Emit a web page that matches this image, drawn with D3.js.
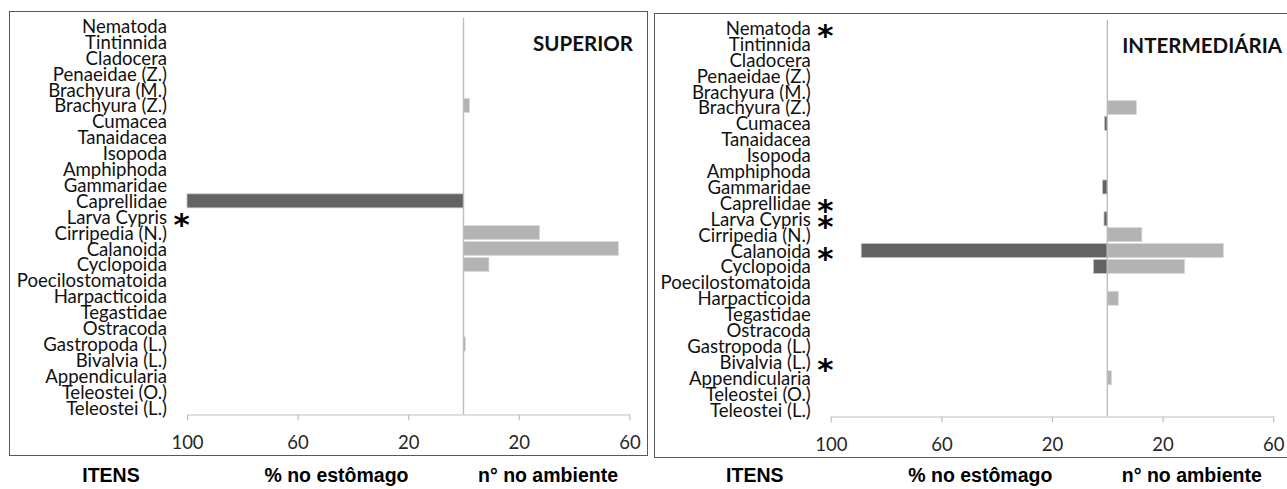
<!DOCTYPE html>
<html>
<head>
<meta charset="utf-8">
<script src="https://cdn.jsdelivr.net/npm/d3@7/dist/d3.min.js"></script>
<style>
  html, body { margin: 0; padding: 0; background: #fff; }
  svg { display: block; }
</style>
</head>
<body>
<svg id="chart" width="1287" height="489"></svg>
<script>
// Food items, listed top to bottom
const items = [
  "Nematoda", "Tintinnida", "Cladocera", "Penaeidae (Z.)", "Brachyura (M.)",
  "Brachyura (Z.)", "Cumacea", "Tanaidacea", "Isopoda", "Amphiphoda",
  "Gammaridae", "Caprellidae", "Larva Cypris", "Cirripedia (N.)", "Calanoida",
  "Cyclopoida", "Poecilostomatoida", "Harpacticoida", "Tegastidae", "Ostracoda",
  "Gastropoda (L.)", "Bivalvia (L.)", "Appendicularia", "Teleostei (O.)", "Teleostei (L.)"
];

// SUPERIOR layer: % in stomach (left) and n° in the environment (right)
const superiorStomach = [0,0,0,0,0, 0,0,0,0,0, 0,100,0,0,0, 0,0,0,0,0, 0,0,0,0,0];
const superiorAmbient = [0,0,0,0,0, 2.2,0,0,0,0, 0,0,0,27.5,56, 9.2,0,0,0,0, 0.7,0,0,0,0];
const superiorStars = ["Larva Cypris"];

// INTERMEDIÁRIA layer
const intermStomach = [0,0,0,0,0, 0,1,0,0,0, 1.7,0,1.2,0,89, 5,0,0,0,0, 0,0,0,0,0];
const intermAmbient = [0,0,0,0,0, 10.5,0,0,0,0, 0,0,0,12.5,42, 28,0,4,0,0, 0,0,1.5,0,0];
const intermStars = ["Nematoda", "Caprellidae", "Larva Cypris", "Calanoida", "Bivalvia (L.)"];

// Axis tick labels
const stomachTicks = [100, 60, 20];
const ambientTicks = [20, 60];
const footerLabels = ["ITENS", "% no estômago", "n° no ambiente"];

const svg = d3.select("#chart");

const panels = [
  { title: "SUPERIOR", stomach: superiorStomach, ambient: superiorAmbient, stars: superiorStars,
    box: [9.5, 11.5, 647.5, 455.5], center: 463.5, dy: 0, titleX: 633 },
  { title: "INTERMEDIÁRIA", stomach: intermStomach, ambient: intermAmbient, stars: intermStars,
    box: [654.5, 13.5, 1300, 457.5], center: 1107.3, dy: 2, titleX: 1282 }
];

const pxPerUnit = 2.765;
const labelFont = "Lato, 'Open Sans', sans-serif";

panels.forEach(p => {
  const g = svg.append("g");

  // frame
  g.append("rect")
    .attr("x", p.box[0]).attr("y", p.box[1])
    .attr("width", p.box[2] - p.box[0]).attr("height", p.box[3] - p.box[1])
    .attr("fill", "none").attr("stroke", "#595959").attr("stroke-width", 1);

  const top = 18 + p.dy, bottom = 415.5 + p.dy;
  const y = d3.scaleBand().domain(items).range([top, bottom])
    .paddingInner(0.12).paddingOuter(0.06);

  const xs = d3.scaleLinear().domain([0, 100]).range([p.center, p.center - 100 * pxPerUnit]);
  const xa = d3.scaleLinear().domain([0, 60]).range([p.center, p.center + 60 * pxPerUnit]);

  // stomach bars (dark, to the left)
  g.append("g").selectAll("rect")
    .data(items.map((d, i) => ({ item: d, v: p.stomach[i] })).filter(d => d.v > 0))
    .join("rect")
    .attr("x", d => xs(d.v)).attr("y", d => y(d.item))
    .attr("width", d => xs(0) - xs(d.v)).attr("height", y.bandwidth())
    .attr("fill", "#636363").attr("stroke", "#c4c4c4").attr("stroke-width", 0.8);

  // environment bars (light, to the right)
  g.append("g").selectAll("rect")
    .data(items.map((d, i) => ({ item: d, v: p.ambient[i] })).filter(d => d.v > 0))
    .join("rect")
    .attr("x", xa(0)).attr("y", d => y(d.item))
    .attr("width", d => xa(d.v) - xa(0)).attr("height", y.bandwidth())
    .attr("fill", "#b3b3b3").attr("stroke", "#dadada").attr("stroke-width", 0.8);

  // central axis line
  const axisY = bottom - 1;
  g.append("line")
    .attr("x1", p.center).attr("x2", p.center)
    .attr("y1", top).attr("y2", axisY)
    .attr("stroke", "#bdbdbd").attr("stroke-width", 1.4);

  // bottom axes
  const axS = g.append("g").attr("transform", `translate(0,${axisY})`)
    .call(d3.axisBottom(xs).tickValues(stomachTicks).tickSize(6).tickSizeOuter(0).tickFormat(d3.format("d")));
  const axA = g.append("g").attr("transform", `translate(0,${axisY})`)
    .call(d3.axisBottom(xa).tickValues(ambientTicks).tickSize(6).tickSizeOuter(0).tickFormat(d3.format("d")));
  [axS, axA].forEach(ax => {
    ax.select(".domain").attr("stroke", "#bfbfbf").attr("stroke-width", 1.2);
    ax.selectAll(".tick line").attr("stroke", "#bfbfbf").attr("stroke-width", 1.2);
    ax.selectAll(".tick text")
      .attr("y", 34).attr("dy", null)
      .attr("fill", "#262626")
      .style("font-family", labelFont).style("font-size", "18.5px");
  });

  // item labels
  const labelX = p.center - 296.5;
  g.append("g").selectAll("text")
    .data(items).join("text")
    .attr("x", labelX).attr("y", d => y(d) + y.bandwidth() / 2 + 7)
    .attr("text-anchor", "end")
    .attr("fill", "#111")
    .style("font-family", labelFont).style("font-size", "18.6px")
    .text(d => d);

  // significance marks
  g.append("g").selectAll("text")
    .data(p.stars).join("text")
    .attr("x", p.center - 282).attr("y", d => y(d) + y.bandwidth() / 2 + 18)
    .attr("text-anchor", "middle")
    .attr("fill", "#000")
    .style("font-family", "'DejaVu Sans', sans-serif").style("font-weight", "bold")
    .style("font-size", "31px")
    .text("*");

  // layer title
  g.append("text")
    .attr("x", p.titleX).attr("y", 51 + p.dy)
    .attr("text-anchor", "end")
    .attr("fill", "#111")
    .style("font-family", labelFont).style("font-weight", "bold").style("font-size", "20.5px")
    .text(p.title);

  // footer captions
  const footX = [p.center - 352.5, p.center - 127, p.center + 84.5];
  g.append("g").selectAll("text")
    .data(footerLabels).join("text")
    .attr("x", (d, i) => footX[i]).attr("y", 482)
    .attr("text-anchor", "middle")
    .attr("fill", "#000")
    .style("font-family", "'Liberation Sans', Arial, sans-serif").style("font-weight", "bold")
    .style("font-size", "19.5px")
    .text(d => d);
});
</script>
</body>
</html>
